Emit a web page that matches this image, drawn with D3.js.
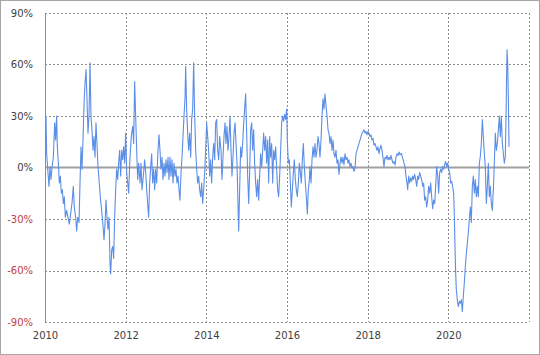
<!DOCTYPE html>
<html>
<head>
<meta charset="utf-8">
<script src="https://cdn.jsdelivr.net/npm/d3@7"></script>
<style>
  body { margin: 0; background: #fff; }
  svg { display: block; }
  .tick text { font-family: "DejaVu Sans", Verdana, sans-serif; font-size: 10px; }
</style>
</head>
<body>
<div id="chart"></div>
<script>
// x tick labels (years) and y ticks (%)
var yearTicks = [2010, 2012, 2014, 2016, 2018, 2020];
var yearGrid = [2010, 2012, 2014, 2016, 2018, 2020, 2022];
var pctTicks = [-90, -60, -30, 0, 30, 60, 90];

// [years after 2010, value %]
var period1 = [[0.025,30],[0.041,8],[0.074,-3],[0.099,-11],[0.124,0.5],[0.149,-7],[0.174,0],[0.207,6],[0.240,26],[0.264,16],[0.289,30],[0.306,12],[0.331,2.5],[0.355,-9],[0.380,-5],[0.405,-15],[0.430,-13],[0.455,-21],[0.479,-17],[0.504,-29],[0.537,-25],[0.570,-29],[0.603,-33],[0.636,-27],[0.669,-21],[0.702,-11],[0.727,-23],[0.760,-29],[0.785,-37],[0.810,-29],[0.843,-32],[0.868,-9],[0.893,12],[0.917,-1],[0.942,16],[0.959,30],[0.975,41],[0.992,49],[1.017,57],[1.041,40],[1.066,20],[1.091,30],[1.116,61],[1.140,30],[1.165,22],[1.190,10],[1.215,18],[1.240,6],[1.264,26],[1.289,14],[1.314,0.5],[1.339,-7],[1.364,-15],[1.388,-21],[1.413,-27],[1.438,-34],[1.463,-42],[1.488,-33],[1.512,-19],[1.537,-29],[1.562,-36],[1.587,-29],[1.612,-56],[1.628,-62],[1.653,-48],[1.678,-46],[1.702,-53],[1.727,-29],[1.752,-13],[1.777,-1],[1.802,-7],[1.826,2.5],[1.851,10],[1.876,-5],[1.901,10],[1.926,4.5],[1.950,12],[1.975,2.5],[2.000,20],[2.025,-3],[2.050,-9],[2.074,-15]];

var period2 = [[2.107,6],[2.140,18],[2.174,24],[2.198,14],[2.223,50],[2.248,30],[2.273,10],[2.298,-7],[2.322,2.5],[2.355,-9],[2.380,2.5],[2.405,-13],[2.438,-5],[2.471,4.5],[2.496,-3],[2.521,-13],[2.545,-21],[2.570,-29],[2.595,-9],[2.620,0.5],[2.645,8],[2.669,-9],[2.694,-1],[2.719,-13],[2.744,-1],[2.769,-9],[2.802,10],[2.826,19],[2.851,10],[2.876,-1],[2.901,6],[2.926,-7],[2.950,2.5],[2.975,-5],[3.000,4.5],[3.025,-3],[3.050,6],[3.074,-7],[3.099,6],[3.124,-5],[3.149,4.5],[3.174,-9],[3.198,2.5],[3.223,-5],[3.248,-1],[3.273,-9],[3.298,-5],[3.322,-13],[3.347,-19],[3.372,-3],[3.397,6],[3.421,18],[3.446,30],[3.471,40],[3.488,59],[3.512,34],[3.537,20],[3.562,10],[3.587,20],[3.612,6],[3.636,28],[3.661,34],[3.686,61],[3.711,30],[3.736,10],[3.760,-1],[3.785,-9],[3.810,-5],[3.835,-13],[3.860,-17],[3.884,-9],[3.909,-21],[3.934,-13],[3.959,-3],[3.983,10],[4.008,26],[4.033,18],[4.058,10],[4.083,-5],[4.107,4.5],[4.132,-9],[4.157,6],[4.182,14],[4.207,4.5],[4.231,26],[4.256,28],[4.281,10],[4.306,4.5],[4.331,18]];

var period3 = [[4.364,10],[4.388,-7],[4.413,6],[4.438,18],[4.463,26],[4.488,14],[4.512,24],[4.537,10],[4.562,18],[4.587,30],[4.612,10],[4.636,-5],[4.661,6],[4.686,20],[4.711,26],[4.736,14],[4.760,2.5],[4.785,-21],[4.802,-37],[4.826,-13],[4.851,12],[4.876,6],[4.901,14],[4.926,26],[4.950,34],[4.975,43],[5.000,20],[5.025,-5],[5.050,-21],[5.074,-3],[5.099,22],[5.124,26],[5.149,10],[5.174,22],[5.198,2.5],[5.223,-9],[5.248,-17],[5.273,-7],[5.298,-19],[5.322,-5],[5.347,8],[5.372,0.5],[5.397,10],[5.421,20],[5.446,10],[5.471,18],[5.496,2.5],[5.521,16],[5.545,-9],[5.570,18],[5.595,6],[5.620,14],[5.645,-9],[5.669,10],[5.694,4.5],[5.719,12],[5.744,-1],[5.769,-13],[5.793,-17],[5.818,-5],[5.843,10],[5.868,26],[5.893,30],[5.917,27],[5.942,31],[5.967,28],[5.992,34],[6.008,16],[6.033,2.5],[6.058,4.5],[6.083,-9],[6.107,-23],[6.132,-13],[6.157,-3],[6.182,4.5],[6.207,-7],[6.231,-13],[6.256,-17],[6.281,-9],[6.306,2.5],[6.331,-3],[6.355,-9],[6.380,4.5],[6.405,14],[6.430,0.5],[6.455,-9],[6.479,-17],[6.504,-27],[6.529,-13],[6.554,-7]];

var period4 = [[6.570,0.5],[6.595,-9],[6.620,4.5],[6.645,12],[6.669,6],[6.694,14],[6.719,6],[6.744,10],[6.769,18],[6.793,14],[6.818,6],[6.843,16],[6.868,30],[6.893,40],[6.917,34],[6.942,43],[6.967,36],[6.992,30],[7.017,22],[7.041,20],[7.066,14],[7.091,18],[7.116,10],[7.140,16],[7.165,8],[7.190,6],[7.215,10],[7.240,2.5],[7.264,4.5],[7.289,-4],[7.314,2.5],[7.339,6],[7.364,2.5],[7.388,6],[7.413,1.5],[7.438,8],[7.463,4.5],[7.488,6],[7.512,2.5],[7.537,4.5],[7.562,0.5],[7.587,2.5],[7.612,-0.4],[7.636,0.5],[7.661,-2.3],[7.686,-0.4],[7.711,8],[7.736,10],[7.760,12],[7.785,14],[7.810,16],[7.835,18],[7.860,20],[7.884,21],[7.909,22],[7.934,20],[7.959,21],[7.983,19],[8.008,21],[8.033,20],[8.058,18],[8.083,19],[8.107,16],[8.132,17],[8.157,13],[8.182,14],[8.207,12],[8.231,10],[8.256,12],[8.281,8],[8.306,11],[8.331,13],[8.355,10],[8.380,6],[8.405,0.5],[8.430,6],[8.455,5],[8.479,7],[8.504,4.5],[8.529,6],[8.554,4.5],[8.579,7],[8.603,4.5],[8.628,2.5],[8.653,3.5],[8.678,1.5],[8.702,6],[8.727,8],[8.752,7],[8.777,9]];

var period5 = [[8.802,7.4],[8.835,8.3],[8.868,5.4],[8.901,2.5],[8.926,0.6],[8.950,-5],[8.975,-9],[8.992,-13],[9.017,-5],[9.041,-9],[9.066,-6],[9.091,-8],[9.116,-5],[9.140,-7],[9.165,-4],[9.190,-7],[9.215,-11],[9.240,-5],[9.264,-7],[9.289,-3],[9.314,-5],[9.339,-7],[9.364,-11],[9.388,-9],[9.413,-19],[9.438,-17],[9.463,-23],[9.488,-19],[9.512,-11],[9.537,-15],[9.562,-9],[9.587,-17],[9.612,-24],[9.636,-19],[9.661,-21],[9.686,-11],[9.711,0.6],[9.736,-5],[9.760,-15],[9.785,-3],[9.810,-1],[9.835,-3],[9.860,0.6],[9.884,-1],[9.909,1.6],[9.934,3.5],[9.959,0.6],[9.983,2.5],[10.008,-1],[10.033,-3],[10.058,-9],[10.083,-8],[10.107,-11],[10.132,-15],[10.149,-28.5],[10.165,-46],[10.182,-61.5],[10.198,-71],[10.223,-77],[10.248,-81],[10.273,-78],[10.298,-79],[10.322,-77],[10.347,-84],[10.372,-75],[10.397,-67],[10.421,-58],[10.446,-50],[10.471,-44],[10.496,-38],[10.521,-30],[10.545,-23],[10.570,-32],[10.595,-11],[10.620,-5],[10.645,-15],[10.669,-7],[10.694,-17],[10.719,-11],[10.744,-17],[10.769,2.5],[10.793,6.4],[10.818,14],[10.843,28],[10.868,18],[10.893,8],[10.917,0.6],[10.942,-21],[10.967,-11],[10.992,2.5],[11.017,-17],[11.041,-11],[11.066,-21],[11.091,-25],[11.116,-13],[11.140,2.5],[11.165,20],[11.190,10],[11.215,14],[11.240,22],[11.264,30],[11.289,18],[11.314,30],[11.339,14],[11.364,8],[11.388,2.5],[11.413,6.4],[11.438,41],[11.455,68.5],[11.471,61],[11.488,41],[11.504,12]];

var series = period1.concat(period2, period3, period4, period5);

var W = 540, H = 355;
var margin = {top: 13, right: 11, bottom: 33, left: 45};

var svg = d3.select("#chart").append("svg")
    .attr("width", W)
    .attr("height", H);

// outer frame
svg.append("rect")
    .attr("x", 0.5).attr("y", 0.5)
    .attr("width", W - 1).attr("height", H - 1)
    .attr("fill", "#fff")
    .attr("stroke", "#a6a6a6");

var x = d3.scaleLinear().domain([2010, 2022]).range([margin.left, W - margin.right]);
var y = d3.scaleLinear().domain([-90, 90]).range([H - margin.bottom, margin.top]);

// dashed grid
var grid = svg.append("g").attr("stroke", "#8c8c8c").attr("stroke-dasharray", "2,2").attr("stroke-width", 1);
grid.selectAll(".hg")
    .data(pctTicks.filter(function(d) { return d !== 0; }))
    .enter().append("line")
    .attr("x1", x(2010)).attr("x2", x(2022))
    .attr("y1", function(d) { return Math.round(y(d)) + 0.5; })
    .attr("y2", function(d) { return Math.round(y(d)) + 0.5; });
grid.selectAll(".vg")
    .data(yearGrid.slice(1))
    .enter().append("line")
    .attr("y1", y(90)).attr("y2", y(-90))
    .attr("x1", function(d) { return Math.round(x(d)) + 0.5; })
    .attr("x2", function(d) { return Math.round(x(d)) + 0.5; });

// zero line + left axis line (solid)
svg.append("line")
    .attr("x1", x(2010)).attr("x2", x(2022))
    .attr("y1", y(0)).attr("y2", y(0))
    .attr("stroke", "#a0a0a0").attr("stroke-width", 2);
svg.append("line")
    .attr("x1", Math.round(x(2010)) + 0.5).attr("x2", Math.round(x(2010)) + 0.5)
    .attr("y1", y(90)).attr("y2", y(-90))
    .attr("stroke", "#8c8c8c");

// data line
var line = d3.line()
    .x(function(d) { return x(2010 + d[0]); })
    .y(function(d) { return y(d[1]); });

svg.append("path")
    .datum(series)
    .attr("fill", "none")
    .attr("stroke", "#5b8ee6")
    .attr("stroke-width", 1.1)
    .attr("stroke-linejoin", "round")
    .attr("d", line);

// axes (labels only)
var yAxis = d3.axisLeft(y)
    .tickValues(pctTicks)
    .tickSize(0)
    .tickPadding(12)
    .tickFormat(function(d) { return d + "%"; });

var gy = svg.append("g")
    .attr("transform", "translate(" + margin.left + ",0)")
    .call(yAxis);
gy.select(".domain").remove();
gy.selectAll("text")
    .attr("fill", function(d) { return d < 0 ? "#c0403c" : "#404040"; });

var xAxis = d3.axisBottom(x)
    .tickValues(yearTicks)
    .tickSize(0)
    .tickPadding(10)
    .tickFormat(d3.format("d"));

var gx = svg.append("g")
    .attr("transform", "translate(0," + (H - margin.bottom) + ")")
    .call(xAxis);
gx.select(".domain").remove();
gx.selectAll("text").attr("fill", "#404040");
</script>
</body>
</html>
